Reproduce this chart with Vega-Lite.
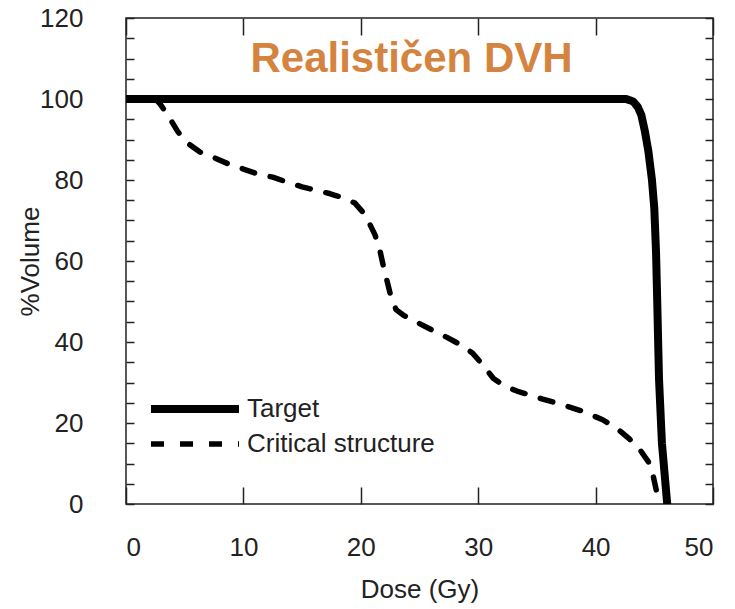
{
  "$schema": "https://vega.github.io/schema/vega-lite/v6.json",
  "width": 587,
  "height": 486,
  "autosize": {"type": "none"},
  "padding": {"left": 126, "top": 18, "right": 22, "bottom": 105},
  "background": "white",
  "config": {"view": {"stroke": "#222", "strokeWidth": 1.5}, "font": "Liberation Sans"},
  "title": {"text": "Realističen DVH", "color": "#D4843F", "fontSize": 42, "font": "Liberation Sans", "fontWeight": "bold", "anchor": "middle", "offset": -76, "dx": -8},
  "data": {"values": [
    {"series": "Target", "dose": 0, "vol": 100},
    {"series": "Target", "dose": 42.6, "vol": 100},
    {"series": "Target", "dose": 43.2, "vol": 99.4},
    {"series": "Target", "dose": 43.6, "vol": 98},
    {"series": "Target", "dose": 43.9, "vol": 96},
    {"series": "Target", "dose": 44.2, "vol": 92},
    {"series": "Target", "dose": 44.5, "vol": 87},
    {"series": "Target", "dose": 44.8, "vol": 80},
    {"series": "Target", "dose": 45.0, "vol": 73},
    {"series": "Target", "dose": 45.15, "vol": 62},
    {"series": "Target", "dose": 45.25, "vol": 50},
    {"series": "Target", "dose": 45.4, "vol": 31},
    {"series": "Target", "dose": 45.65, "vol": 15},
    {"series": "Target", "dose": 46.1, "vol": 0},
    {"series": "Critical structure", "dose": 0, "vol": 100},
    {"series": "Critical structure", "dose": 2.5, "vol": 100},
    {"series": "Critical structure", "dose": 2.9, "vol": 98.8},
    {"series": "Critical structure", "dose": 3.5, "vol": 96.3},
    {"series": "Critical structure", "dose": 4.4, "vol": 92},
    {"series": "Critical structure", "dose": 5.1, "vol": 89.4},
    {"series": "Critical structure", "dose": 6.3, "vol": 86.9},
    {"series": "Critical structure", "dose": 7.6, "vol": 85.4},
    {"series": "Critical structure", "dose": 8.7, "vol": 84},
    {"series": "Critical structure", "dose": 10, "vol": 82.7},
    {"series": "Critical structure", "dose": 11.2, "vol": 81.5},
    {"series": "Critical structure", "dose": 12.5, "vol": 80.7},
    {"series": "Critical structure", "dose": 13.7, "vol": 79.5},
    {"series": "Critical structure", "dose": 15, "vol": 78.3},
    {"series": "Critical structure", "dose": 16.1, "vol": 77.5},
    {"series": "Critical structure", "dose": 17.4, "vol": 76.6},
    {"series": "Critical structure", "dose": 18.5, "vol": 75.6},
    {"series": "Critical structure", "dose": 19.5, "vol": 74.3},
    {"series": "Critical structure", "dose": 20.2, "vol": 72},
    {"series": "Critical structure", "dose": 20.7, "vol": 69.5},
    {"series": "Critical structure", "dose": 21.2, "vol": 66.5},
    {"series": "Critical structure", "dose": 21.6, "vol": 63},
    {"series": "Critical structure", "dose": 21.9, "vol": 59},
    {"series": "Critical structure", "dose": 22.2, "vol": 55.5},
    {"series": "Critical structure", "dose": 22.5, "vol": 52},
    {"series": "Critical structure", "dose": 23.0, "vol": 48},
    {"series": "Critical structure", "dose": 23.7, "vol": 46.5},
    {"series": "Critical structure", "dose": 24.5, "vol": 45.3},
    {"series": "Critical structure", "dose": 25.9, "vol": 43.2},
    {"series": "Critical structure", "dose": 27.3, "vol": 41.2},
    {"series": "Critical structure", "dose": 28.7, "vol": 39},
    {"series": "Critical structure", "dose": 29.5, "vol": 37.3},
    {"series": "Critical structure", "dose": 30.2, "vol": 35},
    {"series": "Critical structure", "dose": 31.3, "vol": 31},
    {"series": "Critical structure", "dose": 32.3, "vol": 29},
    {"series": "Critical structure", "dose": 33.3, "vol": 27.9},
    {"series": "Critical structure", "dose": 35.5, "vol": 25.9},
    {"series": "Critical structure", "dose": 37.3, "vol": 24.4},
    {"series": "Critical structure", "dose": 38.8, "vol": 23},
    {"series": "Critical structure", "dose": 40.6, "vol": 20.8},
    {"series": "Critical structure", "dose": 41.8, "vol": 18.7},
    {"series": "Critical structure", "dose": 42.9, "vol": 16},
    {"series": "Critical structure", "dose": 43.8, "vol": 13.3},
    {"series": "Critical structure", "dose": 44.5, "vol": 10.4},
    {"series": "Critical structure", "dose": 44.9, "vol": 7},
    {"series": "Critical structure", "dose": 45.2, "vol": 3},
    {"series": "Critical structure", "dose": 45.45, "vol": 0}
  ]},
  "layer": [
    {
      "transform": [{"filter": "datum.series === 'Target'"}],
      "mark": {"type": "line", "color": "black", "strokeCap": "round", "strokeJoin": "round", "clip": true},
      "encoding": {
        "x": {"field": "dose", "type": "quantitative", "scale": {"domain": [0, 50], "nice": false},
          "axis": {"orient": "bottom", "values": [0, 10, 20, 30, 40, 50], "tickSize": -17, "tickWidth": 1.5, "tickColor": "#222", "domain": false, "grid": false,
            "labelFont": "Liberation Sans", "labelFontSize": 26, "labelColor": "#222", "labelPadding": 47,
            "title": "Dose (Gy)", "titleFont": "Liberation Sans", "titleFontSize": 26, "titleFontWeight": "normal", "titleColor": "#222", "titlePadding": 16}},
        "y": {"field": "vol", "type": "quantitative", "scale": {"domain": [0, 120], "nice": false},
          "axis": {"orient": "left", "values": [0, 5, 10, 15, 20, 25, 30, 35, 40, 45, 50, 55, 60, 65, 70, 75, 80, 85, 90, 95, 100, 105, 110, 115, 120],
            "labelExpr": "datum.value % 20 === 0 ? datum.label : ''",
            "tickSize": -8,
            "encode": {"ticks": {"update": {"x2": {"signal": "datum.value % 20 === 0 ? 14 : 8"}}}},
            "tickWidth": 1.5, "tickColor": "#222", "domain": false, "grid": false,
            "labelFont": "Liberation Sans", "labelFontSize": 26, "labelColor": "#222", "labelPadding": 51,
            "title": "%Volume", "titleFont": "Liberation Sans", "titleFontSize": 26, "titleFontWeight": "normal", "titleColor": "#222", "titlePadding": -4}},
        "strokeDash": {"field": "series", "type": "nominal", "scale": {"domain": ["Target", "Critical structure"], "range": [[1, 0], [13, 16]]},
          "legend": {"orient": "none", "legendX": 54, "legendY": 376, "title": null, "symbolType": "M-4,0H4", "symbolSize": 484, "symbolStrokeColor": "black",
            "labelFont": "Liberation Sans", "labelFontSize": 26, "labelColor": "#222", "labelOffset": 37, "rowPadding": 5, "padding": 0, "labelLimit": 400}},
        "strokeWidth": {"field": "series", "type": "nominal", "scale": {"domain": ["Target", "Critical structure"], "range": [8, 5.5]}}
      }
    },
    {
      "transform": [{"filter": "datum.series === 'Critical structure'"}],
      "mark": {"type": "line", "color": "black", "strokeCap": "round", "strokeJoin": "round", "clip": true},
      "encoding": {
        "x": {"field": "dose", "type": "quantitative",
          "axis": {"orient": "top", "values": [0, 10, 20, 30, 40, 50], "tickSize": -17, "tickWidth": 1.5, "tickColor": "#222", "domain": false, "grid": false, "labels": false, "title": null}},
        "y": {"field": "vol", "type": "quantitative",
          "axis": {"orient": "right", "values": [0, 5, 10, 15, 20, 25, 30, 35, 40, 45, 50, 55, 60, 65, 70, 75, 80, 85, 90, 95, 100, 105, 110, 115, 120],
            "tickSize": -8,
            "encode": {"ticks": {"update": {"x2": {"signal": "datum.value % 20 === 0 ? -14 : -8"}}}},
            "tickWidth": 1.5, "tickColor": "#222", "domain": false, "grid": false, "labels": false, "title": null}},
        "strokeDash": {"field": "series", "type": "nominal"},
        "strokeWidth": {"field": "series", "type": "nominal"}
      }
    }
  ],
  "resolve": {"axis": {"x": "independent", "y": "independent"}}
}
